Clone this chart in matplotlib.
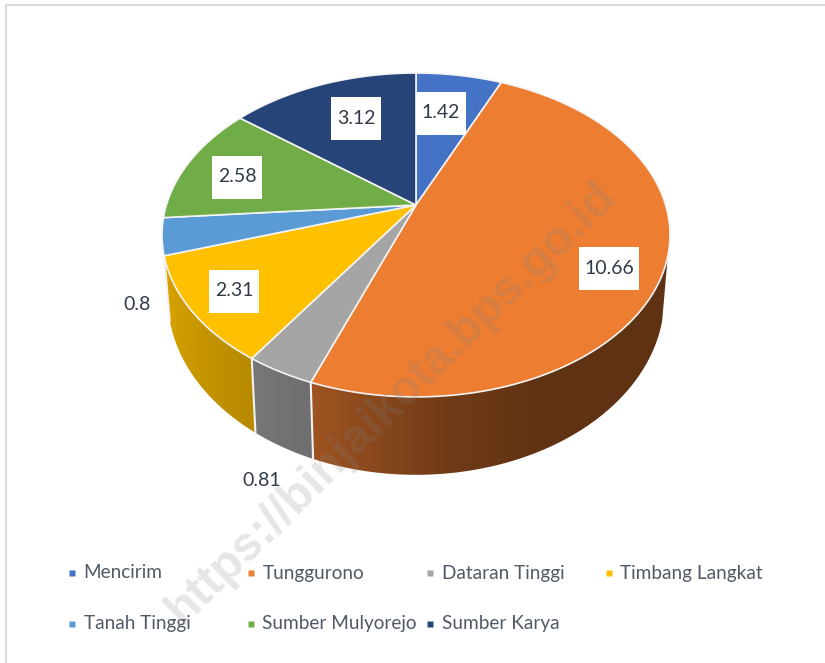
import numpy as np
import matplotlib
matplotlib.use("Agg")
import matplotlib.pyplot as plt
from matplotlib.patches import Polygon, Rectangle

categories = ["Mencirim", "Tunggurono", "Dataran Tinggi", "Timbang Langkat",
              "Tanah Tinggi", "Sumber Mulyorejo", "Sumber Karya"]
values = [1.42, 10.66, 0.81, 2.31, 0.8, 2.58, 3.12]
labels = ["1.42", "10.66", "0.81", "2.31", "0.8", "2.58", "3.12"]
colors = ["#4472C4", "#ED7D31", "#A5A5A5", "#FFC000", "#5B9BD5", "#70AD47", "#264478"]

W, H = 825, 663
plt.rcParams["font.family"] = ["Lato", "DejaVu Sans"]
fig = plt.figure(figsize=(W / 100, H / 100), dpi=100)
ax = fig.add_axes([0, 0, 1, 1])
ax.axis("off")

# page frame
ax.plot([6, 6, W], [H, 4.5, 4.5], color="#dcdcdc", lw=1.6, zorder=0)

# perspective projection of the pie disc
K = 0.185
CX = 416


def top(t):
    d = 1 + K * np.cos(t)
    return CX + 249.6 * np.sin(t) / d, 205 - 156.4 * np.cos(t) / d


def bottom(t):
    d = 1 + K * np.cos(t)
    return CX + 244 * np.sin(t) / d, 265 - 171 * np.cos(t) / d


edges = np.concatenate([[0], np.cumsum(values)]) / np.sum(values) * 2 * np.pi
WALL_START, WALL_END = np.radians(108), np.radians(254)


def shade(t):
    return np.interp(np.degrees(t), [108, 155, 175, 200, 214, 254],
                     [0.40, 0.40, 0.48, 0.67, 0.72, 0.87])


# side wall: a horizontal gradient image clipped to each wedge's wall
for i, col in enumerate(colors):
    a, b = max(edges[i], WALL_START), min(edges[i + 1], WALL_END)
    if a >= b:
        continue
    rgb = np.array(matplotlib.colors.to_rgb(col))
    ts = np.linspace(a, b, 200)
    xt, yt = top(ts)
    xb, yb = bottom(ts[::-1])
    poly = Polygon(np.column_stack([np.r_[xt, xb], np.r_[yt, yb]]), closed=True,
                   transform=ax.transData, facecolor="none", edgecolor="none")
    ax.add_patch(poly)
    xs = np.arange(np.floor(min(xt.min(), xb.min())) - 1, np.ceil(max(xt.max(), xb.max())) + 2)
    order = np.argsort(xt)
    f = shade(np.interp(xs, xt[order], ts[order]))
    img = (rgb[None, None, :] * f[None, :, None])
    im = ax.imshow(img, extent=(xs[0] - .5, xs[-1] + .5, H, 0), aspect="auto",
                   interpolation="bilinear", zorder=2)
    im.set_clip_path(poly)

ax.set_xlim(0, W)
ax.set_ylim(H, 0)

# white separators on the wall
for e in edges:
    if WALL_START < e < WALL_END:
        xt, yt = top(e)
        xb, yb = bottom(e)
        ax.plot([xt, xb], [yt, yb], color="#f2f2f2", lw=1.5, zorder=3)

# top surface
for i, col in enumerate(colors):
    ts = np.linspace(edges[i], edges[i + 1], 160)
    x, y = top(ts)
    pts = np.column_stack([np.r_[CX, x], np.r_[205, y]])
    ax.add_patch(Polygon(pts, closed=True, facecolor=col, edgecolor="#f4f4f4",
                         lw=1.2, joinstyle="round", zorder=4))

# data labels
TXT = "#303a48"
inside = {"1.42": (441, 113), "10.66": (609, 268.5), "2.31": (234, 291),
          "2.58": (237, 177), "3.12": (356, 118)}
outside = {"0.8": (137, 305), "0.81": (262, 481)}
for lab in labels:
    if lab in inside:
        x, y = inside[lab]
        w = 60 if len(lab) > 4 else 50
        ax.add_patch(Rectangle((x - w / 2, y - 21.5), w, 43, facecolor="white",
                               edgecolor="none", zorder=5))
        ax.text(x, y, lab, ha="center", va="center", fontsize=14, color=TXT, zorder=6)
    else:
        x, y = outside[lab]
        ax.text(x, y, lab, ha="center", va="center", fontsize=14, color=TXT, zorder=6)

# legend
for i, (name, col) in enumerate(zip(categories, colors)):
    r, c = divmod(i, 4)
    lx, ly = 71.5 + 179 * c, 573 + 51 * r
    ax.plot([lx], [ly], marker="s", ms=4.6, color=col, mec="none", zorder=6)
    ax.text(lx + 12, ly, name, ha="left", va="center", fontsize=13.7,
            color="#505a66", zorder=6)

# watermark
ax.text(391, 403, "https://binjaikota.bps.go.id", rotation=44.5, rotation_mode="anchor",
        ha="center", va="center", fontsize=34.5, fontweight="bold",
        family=["Liberation Sans", "DejaVu Sans"], color="#808080", alpha=0.2, zorder=7)

fig.savefig("out.png", dpi=100, facecolor="white")
